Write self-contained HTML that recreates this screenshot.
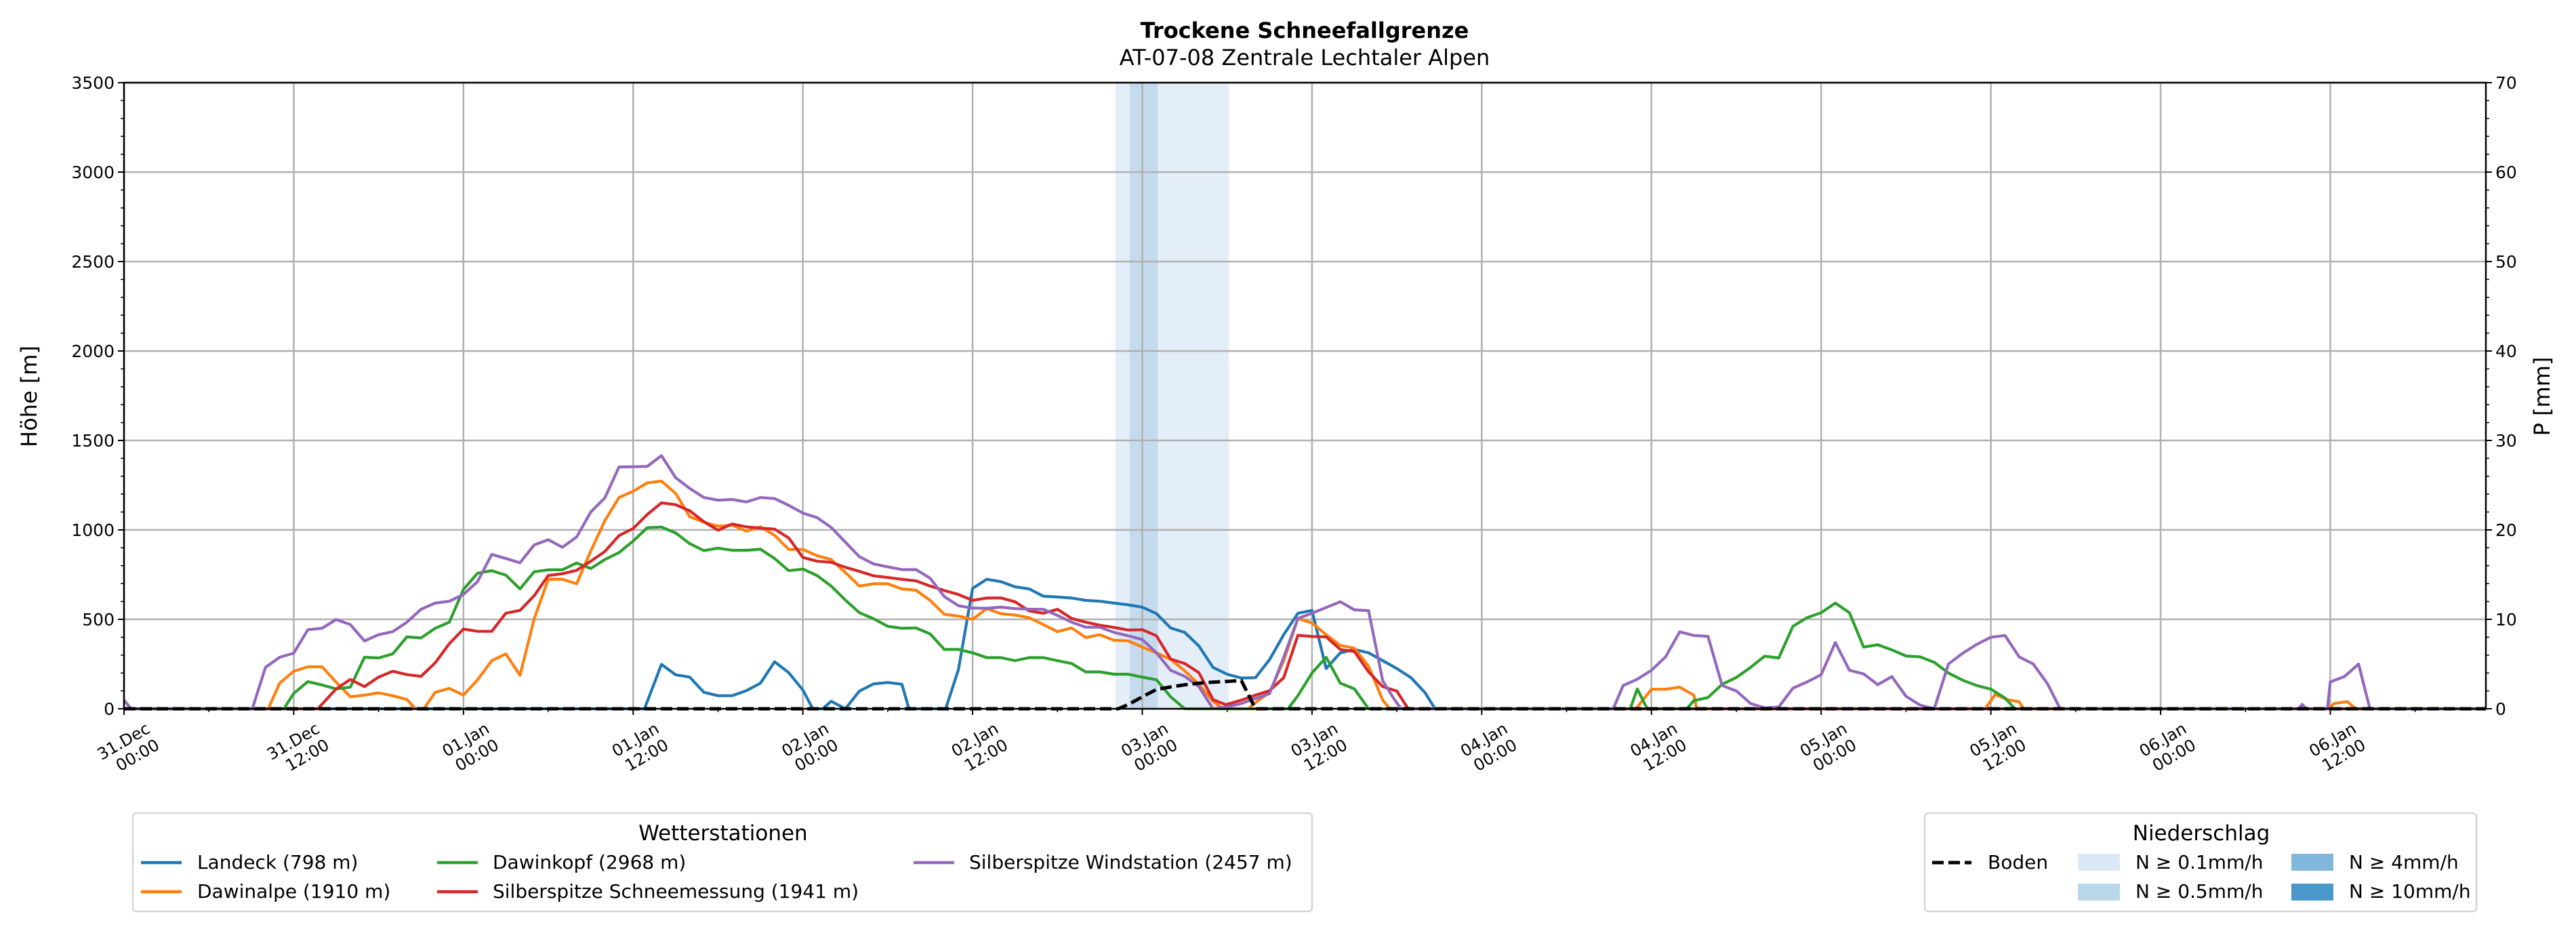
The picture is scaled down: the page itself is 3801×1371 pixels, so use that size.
<!DOCTYPE html>
<html><head><meta charset="utf-8"><style>
html,body{margin:0;padding:0;background:#fff;}
svg{display:block;font-family:"DejaVu Sans","Liberation Sans",sans-serif;}
</style></head><body>
<svg id="chart" width="3801" height="1371" viewBox="0 0 3801 1371" xmlns="http://www.w3.org/2000/svg">
<text x="1925" y="56" text-anchor="middle" font-size="32" font-weight="bold">Trockene Schneefallgrenze</text>
<text x="1925" y="96" text-anchor="middle" font-size="32">AT-07-08 Zentrale Lechtaler Alpen</text>
<g id="bands"></g>
<g id="grid"></g>
<g id="lines"></g>
<g id="axes"></g>
<text transform="translate(54,585) rotate(-90)" text-anchor="middle" font-size="32">Höhe [m]</text>
<text transform="translate(3762,585) rotate(-90)" text-anchor="middle" font-size="32">P [mm]</text>
<g>
<rect x="196" y="1200" width="1740" height="145" rx="5" fill="#fff" stroke="#d5d5d5" stroke-width="2.5"/>
<text x="1067" y="1240" text-anchor="middle" font-size="31">Wetterstationen</text>
<g><line x1="208" y1="1273" x2="268" y2="1273" stroke="#1f77b4" stroke-width="4.5"/><text x="291" y="1282" font-size="28">Landeck (798 m)</text></g>
<g><line x1="208" y1="1316" x2="268" y2="1316" stroke="#ff7f0e" stroke-width="4.5"/><text x="291" y="1325" font-size="28">Dawinalpe (1910 m)</text></g>
<g><line x1="645" y1="1273" x2="705" y2="1273" stroke="#2ca02c" stroke-width="4.5"/><text x="727" y="1282" font-size="28">Dawinkopf (2968 m)</text></g>
<g><line x1="645" y1="1316" x2="705" y2="1316" stroke="#d62728" stroke-width="4.5"/><text x="727" y="1325" font-size="28">Silberspitze Schneemessung (1941 m)</text></g>
<g><line x1="1348" y1="1273" x2="1408" y2="1273" stroke="#9467bd" stroke-width="4.5"/><text x="1430" y="1282" font-size="28">Silberspitze Windstation (2457 m)</text></g>
</g>
<g>
<rect x="2840" y="1200" width="814" height="145" rx="5" fill="#fff" stroke="#d5d5d5" stroke-width="2.5"/>
<text x="3248" y="1240" text-anchor="middle" font-size="31">Niederschlag</text>
<g><line x1="2851" y1="1273" x2="2909" y2="1273" stroke="#000" stroke-width="5" stroke-dasharray="17,7"/><text x="2933" y="1282" font-size="28">Boden</text></g>
<g><rect x="3066" y="1260" width="62" height="25" fill="#dbe9f6"/><text x="3151" y="1282" font-size="28">N ≥ 0.1mm/h</text></g>
<g><rect x="3066" y="1304" width="62" height="25" fill="#bad6eb"/><text x="3151" y="1325" font-size="28">N ≥ 0.5mm/h</text></g>
<g><rect x="3381" y="1260" width="62" height="25" fill="#7fb8dc"/><text x="3466" y="1282" font-size="28">N ≥ 4mm/h</text></g>
<g><rect x="3381" y="1304" width="62" height="25" fill="#4a98c9"/><text x="3466" y="1325" font-size="28">N ≥ 10mm/h</text></g>
</g>
</svg>
<script>
const xTickLabels = ["31.Dec|00:00","31.Dec|12:00","01.Jan|00:00","01.Jan|12:00","02.Jan|00:00","02.Jan|12:00","03.Jan|00:00","03.Jan|12:00","04.Jan|00:00","04.Jan|12:00","05.Jan|00:00","05.Jan|12:00","06.Jan|00:00","06.Jan|12:00"];
const yTicks = [0,500,1000,1500,2000,2500,3000,3500];
const y2Ticks = [0,10,20,30,40,50,60,70];
const precipHours = [70,71,72,73,74,75,76,77];
const precipValues = [0.3,0.7,0.7,0.3,0.3,0.3,0.3,0.3];
const landeck = [[0,0],[36.8,0],[38,248],[39,190],[40,177],[41,92],[42,73],[43,73],[44,101],[45,143],[46,263],[47,202],[48,105],[48.7,0],[49.4,0],[50,42],[51,0],[52,99],[53,139],[54,147],[55,137],[55.5,0],[58.1,0],[59,219],[60,673],[61,724],[62,711],[63,682],[64,670],[65,629],[66,625],[67,619],[68,606],[69,601],[70,591],[71,581],[72,568],[73,532],[74,452],[75,427],[76,351],[77,231],[78,193],[79,172],[80,174],[81,275],[82,414],[83,534],[84,550],[85,225],[86,313],[87,332],[88,313],[89,269],[90,225],[91,174],[92,89],[92.7,0],[167,0]];
const dawinalpe = [[0,0],[10.2,0],[11,143],[12,210],[13,235],[14,235],[15,149],[16,67],[17,76],[18,89],[19,73],[20,52],[20.6,0],[21.2,0],[22,92],[23,114],[24,76],[25,162],[26,269],[27,307],[28,187],[29,503],[30,724],[31,724],[32,699],[33,882],[34,1052],[35,1181],[36,1216],[37,1263],[38,1273],[39,1204],[40,1074],[41,1043],[42,1021],[43,1027],[44,993],[45,1017],[46,970],[47,891],[48,891],[49,856],[50,834],[51,762],[52,686],[53,699],[54,699],[55,670],[56,663],[57,606],[58,528],[59,518],[60,500],[61,560],[62,532],[63,524],[64,509],[65,471],[66,431],[67,452],[68,398],[69,414],[70,383],[71,380],[72,345],[73,313],[74,276],[75,212],[76,137],[77,42],[77.7,0],[79.5,0],[80,35],[81,92],[82,269],[83,505],[84,480],[85,414],[86,354],[87,339],[88,238],[89,48],[89.5,0],[106.9,0],[108,109],[109,109],[110,121],[111,76],[111.2,0],[131.6,0],[132.3,80],[133.2,50],[134,40],[134.3,0],[155.8,0],[156.3,30],[157.2,40],[157.8,0],[167,0]];
const dawinkopf = [[0,0],[11.3,0],[12,86],[13,152],[14,133],[15,111],[16,121],[17,288],[18,284],[19,307],[20,402],[21,396],[22,450],[23,484],[24,667],[25,758],[26,772],[27,747],[28,670],[29,766],[30,777],[31,777],[32,815],[33,784],[34,834],[35,873],[36,938],[37,1012],[38,1016],[39,983],[40,923],[41,884],[42,898],[43,886],[44,886],[45,892],[46,840],[47,772],[48,781],[49,745],[50,686],[51,608],[52,537],[53,503],[54,461],[55,450],[56,452],[57,418],[58,332],[59,332],[60,313],[61,286],[62,286],[63,269],[64,286],[65,286],[66,269],[67,253],[68,206],[69,206],[70,193],[71,193],[72,177],[73,162],[74,67],[75,0],[82.3,0],[83,73],[84,200],[85,288],[86,143],[87,111],[88,0],[106.5,0],[107,111],[107.7,0],[110.5,0],[111,46],[112,63],[113,137],[114,175],[115,231],[116,294],[117,284],[118,461],[119,509],[120,537],[121,591],[122,537],[123,345],[124,358],[125,329],[126,295],[127,290],[128,260],[129,200],[130,160],[131,130],[132,110],[133,60],[133.7,0],[167,0]];
const schneemessung = [[0,0],[13.7,0],[15,111],[16,164],[17,124],[18,177],[19,210],[20,191],[21,181],[22,257],[23,364],[24,446],[25,433],[26,433],[27,534],[28,550],[29,632],[30,745],[31,755],[32,774],[33,825],[34,879],[35,968],[36,1008],[37,1086],[38,1151],[39,1141],[40,1107],[41,1046],[42,998],[43,1033],[44,1017],[45,1010],[46,1004],[47,955],[48,846],[49,825],[50,819],[51,791],[52,768],[53,743],[54,734],[55,724],[56,715],[57,686],[58,661],[59,639],[60,606],[61,619],[62,620],[63,598],[64,547],[65,534],[66,556],[67,505],[68,484],[69,467],[70,455],[71,440],[72,442],[73,408],[74,278],[75,253],[76,202],[77,51],[77.9,23],[79,48],[80,76],[81,101],[82,174],[83,411],[84,404],[85,402],[86,332],[87,320],[88,206],[89,124],[90,99],[90.8,0],[167,0]];
const windstation = [[0,48],[0.5,0],[9.07,0],[10,231],[11,288],[12,311],[13,442],[14,450],[15,499],[16,471],[17,379],[18,414],[19,431],[20,484],[21,556],[22,591],[23,601],[24,639],[25,711],[26,863],[27,840],[28,816],[29,916],[30,945],[31,903],[32,960],[33,1100],[34,1179],[35,1352],[36,1353],[37,1355],[38,1415],[39,1292],[40,1232],[41,1181],[42,1166],[43,1170],[44,1156],[45,1181],[46,1175],[47,1137],[48,1094],[49,1069],[50,1014],[51,932],[52,850],[53,810],[54,793],[55,778],[56,778],[57,730],[58,627],[59,576],[60,563],[61,562],[62,568],[63,560],[64,557],[65,556],[66,522],[67,484],[68,456],[69,456],[70,427],[71,408],[72,387],[73,313],[74,215],[75,181],[76,124],[77,0],[77.9,10],[79,29],[80,58],[81,84],[82,288],[83,505],[84,534],[85,566],[86,598],[87,553],[88,549],[89,156],[89.8,55],[90.3,0],[105.3,0],[106,130],[107,165],[108,215],[109,290],[110,430],[111,410],[112,405],[113,130],[114,100],[115,30],[116,5],[117,10],[118,115],[119,150],[120,190],[121,370],[122,215],[123,195],[124,135],[125,180],[126,70],[127,20],[128,0],[129,250],[130,310],[131,360],[132,400],[133,410],[134,290],[135,250],[136,140],[136.9,0],[153.8,0],[154,25],[154.3,0],[155.8,0],[156,150],[157,180],[158,250],[158.8,0],[167,0]];
const boden = [[0,0],[70.3,0],[71,23],[72,67],[73,108],[74,122],[75,134],[76,143],[77,149],[78,153],[79,158],[80,0],[167,0]];

const NS="http://www.w3.org/2000/svg";
const L=183,R=3668,T=122,B=1046,HMAX=167,YMAX=3500,PMAX=70;
function xs(h){return L+h*(R-L)/HMAX;}
function ys(v){return B-v*(B-T)/YMAX;}
function mk(tag,attrs,parent){const e=document.createElementNS(NS,tag);for(const k in attrs)e.setAttribute(k,attrs[k]);parent.appendChild(e);return e;}
const bands=document.getElementById('bands'),grid=document.getElementById('grid'),lines=document.getElementById('lines'),axes=document.getElementById('axes');
function pColor(p){if(p>=10)return '#4a98c9';if(p>=4)return '#7fb8dc';if(p>=0.5)return '#c5dbed';return '#e4eef8';}
precipHours.forEach((h,i)=>{
  const r=mk('rect',{x:xs(h+0.1),y:T,width:xs(h+1.1)-xs(h+0.1)+0.5,height:B-T,fill:pColor(precipValues[i])},bands);
  
  
});
yTicks.forEach(v=>{
  const g=mk('line',{x1:L,x2:R,y1:ys(v),y2:ys(v),stroke:'#b0b0b0','stroke-width':2.5},grid);
  
  
});
xTickLabels.forEach((lab,i)=>{
  const x=xs(i*12);
  const g=mk('line',{x1:x,x2:x,y1:T,y2:B,stroke:'#b0b0b0','stroke-width':2.5},grid);
  
  
});
function drawSeries(data,color,name,dash){
  const d=data.map((p,i)=>(i?'L':'M')+xs(p[0]).toFixed(1)+','+ys(p[1]).toFixed(1)).join('');
  const a={d:d,fill:'none',stroke:color,'stroke-width':dash?5:4.2,'stroke-linejoin':'round'};
  if(dash)a['stroke-dasharray']='17,7';
  const p=mk('path',a,lines);
  
  
}
drawSeries(landeck,'#1f77b4','line-landeck');
drawSeries(dawinalpe,'#ff7f0e','line-dawinalpe');
drawSeries(dawinkopf,'#2ca02c','line-dawinkopf');
drawSeries(schneemessung,'#d62728','line-silberspitze-schnee');
drawSeries(windstation,'#9467bd','line-silberspitze-wind');
drawSeries(boden,'#000','line-boden',true);
const fr=mk('rect',{x:L,y:T,width:R-L,height:B-T,fill:'none',stroke:'#000','stroke-width':2.5},axes);


yTicks.forEach(v=>{
  mk('line',{x1:L-9,x2:L,y1:ys(v),y2:ys(v),stroke:'#000','stroke-width':2},axes);
  const t=mk('text',{x:L-14,y:ys(v)+9,'text-anchor':'end','font-size':25},axes);
  t.textContent=v;
  
  
});
for(let v=0;v<=YMAX;v+=100){mk('line',{x1:L-5,x2:L,y1:ys(v),y2:ys(v),stroke:'#000','stroke-width':1.5},axes);}
y2Ticks.forEach(p=>{
  const y=B-p*(B-T)/PMAX;
  mk('line',{x1:R,x2:R+9,y1:y,y2:y,stroke:'#000','stroke-width':2},axes);
  const t=mk('text',{x:R+14,y:y+9,'font-size':25},axes);
  t.textContent=p;
  
  
});
for(let p=0;p<=PMAX;p+=2){const y=B-p*(B-T)/PMAX;mk('line',{x1:R,x2:R+5,y1:y,y2:y,stroke:'#000','stroke-width':1.5},axes);}
for(let h=0;h<=HMAX;h+=6){mk('line',{x1:xs(h),x2:xs(h),y1:B,y2:B+(h%12?5:9),stroke:'#000','stroke-width':h%12?1.5:2},axes);}
xTickLabels.forEach((lab,i)=>{
  const x=xs(i*12),parts=lab.split('|');
  const t=mk('text',{transform:`translate(${x+40},${B+34}) rotate(-30)`,'text-anchor':'end','font-size':24},axes);
  
  
  const s1=mk('tspan',{x:0,y:0},t);s1.textContent=parts[0];
  const s2=mk('tspan',{x:0,y:28},t);s2.textContent=parts[1];
});
</script>
</body></html>
